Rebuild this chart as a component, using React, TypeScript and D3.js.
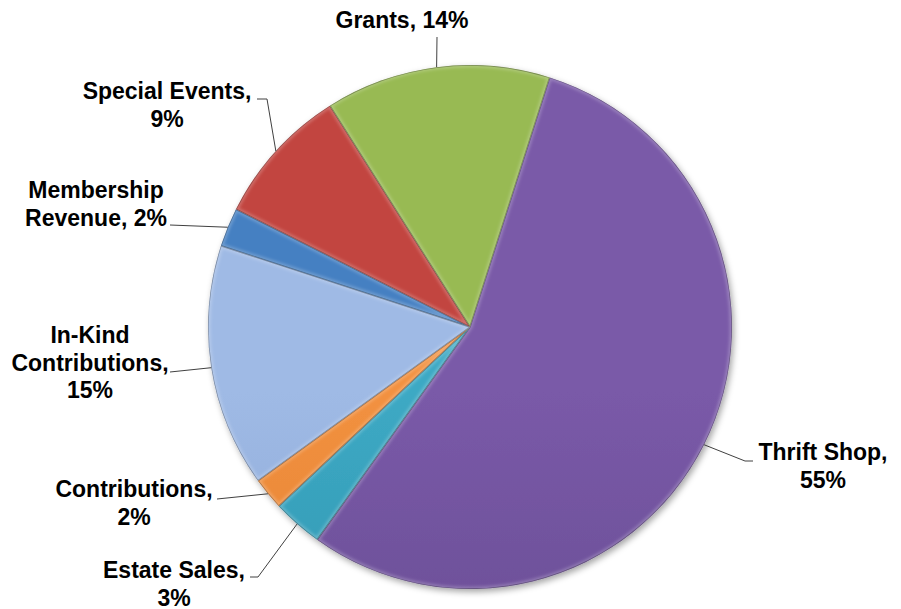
import React from "react";
import * as d3 from "d3";

const categories = ["Thrift Shop", "Estate Sales", "Contributions", "In-Kind Contributions", "Membership Revenue", "Special Events", "Grants"];
const values = [55.0, 3.1, 2.0, 15.0, 2.4, 8.6, 13.9];
const labelLines = [
  ["Thrift Shop,", "55%"],
  ["Estate Sales,", "3%"],
  ["Contributions,", "2%"],
  ["In-Kind", "Contributions,", "15%"],
  ["Membership", "Revenue, 2%"],
  ["Special Events,", "9%"],
  ["Grants, 14%"],
];
const topColors = ["#7A5AA8", "#3DA9C4", "#F29140", "#9FBAE5", "#4580C2", "#C2453F", "#98BA52"];
const bottomColors = ["#5C4286", "#2788A2", "#D77523", "#7A97C8", "#2F64A2", "#9B2C29", "#7C9B3A"];

// layout (pixel positions of label text and leader elbows)
const W = 901, H = 609;
const CX = 470, CY = 327, R = 262;
const START_DEG = 17.7;
const LH = 27.5;
const labelLayout = [
  { x: 823, y: 460, pts: [[745, 461], [753, 461]] },
  { x: 174, y: 578, pts: [[258, 577], [250, 577]] },
  { x: 134, y: 497, pts: [[217, 499]] },
  { x: 90, y: 343, pts: [[170, 372]] },
  { x: 96, y: 198, pts: [[170, 225]] },
  { x: 167, y: 99, pts: [[267, 99], [257, 99]] },
  { x: 402, y: 28, pts: [[437, 37]] },
];

export default function App() {
  const start = (START_DEG * Math.PI) / 180;
  const pie = d3.pie<number>().sort(null).value((d) => d).startAngle(start).endAngle(start + 2 * Math.PI);
  const arcs = pie(values);
  const arc = d3.arc<d3.PieArcDatum<number>>().innerRadius(0).outerRadius(R);

  return (
    <svg width={W} height={H} style={{ position: "absolute", left: 0, top: 0, background: "#fff" }}>
      <defs>
        {categories.map((c, i) => (
          <linearGradient key={c} id={`g${i}`} gradientUnits="userSpaceOnUse" x1={0} y1={CY - R} x2={0} y2={CY + R}>
            <stop offset="0%" stopColor={topColors[i]} />
            <stop offset="100%" stopColor={bottomColors[i]} />
          </linearGradient>
        ))}
        {arcs.map((a, i) => (
          <clipPath key={i} id={`c${i}`}>
            <path d={arc(a) || ""} transform={`translate(${CX},${CY})`} />
          </clipPath>
        ))}
        <filter id="shadow" x="-10%" y="-10%" width="120%" height="120%">
          <feDropShadow dx="2" dy="3" stdDeviation="3" floodColor="#000" floodOpacity="0.35" />
        </filter>
        <filter id="blur" x="-10%" y="-10%" width="120%" height="120%">
          <feGaussianBlur stdDeviation="1.5" />
        </filter>
      </defs>
      <g filter="url(#shadow)">
        {arcs.map((a, i) => (
          <path key={i} d={arc(a) || ""} transform={`translate(${CX},${CY})`} fill={`url(#g${i})`} />
        ))}
      </g>
      {arcs.map((a, i) => (
        <g key={i} clipPath={`url(#c${i})`}>
          <path
            d={arc(a) || ""}
            transform={`translate(${CX},${CY})`}
            fill="none"
            stroke="#ffffff"
            strokeOpacity={0.22}
            strokeWidth={5}
            filter="url(#blur)"
          />
          <path
            d={arc(a) || ""}
            transform={`translate(${CX},${CY})`}
            fill="none"
            stroke="#000"
            strokeOpacity={0.3}
            strokeWidth={1.5}
          />
        </g>
      ))}
      {arcs.map((a, i) => {
        const mid = (a.startAngle + a.endAngle) / 2;
        const p0: [number, number] = [CX + R * Math.sin(mid), CY - R * Math.cos(mid)];
        const pts = [p0, ...(labelLayout[i].pts as [number, number][])];
        const line = d3.line()(pts) || "";
        return <path key={`l${i}`} d={line} fill="none" stroke="#404040" strokeWidth={1} />;
      })}
      {labelLines.map((lines, i) => (
        <text
          key={`t${i}`}
          x={labelLayout[i].x}
          y={labelLayout[i].y}
          textAnchor="middle"
          fontFamily="'Liberation Sans', Arial, sans-serif"
          fontWeight="bold"
          fontSize={23}
          fill="#000"
        >
          {lines.map((ln, j) => (
            <tspan key={j} x={labelLayout[i].x} y={labelLayout[i].y + j * LH}>
              {ln}
            </tspan>
          ))}
        </text>
      ))}
    </svg>
  );
}
